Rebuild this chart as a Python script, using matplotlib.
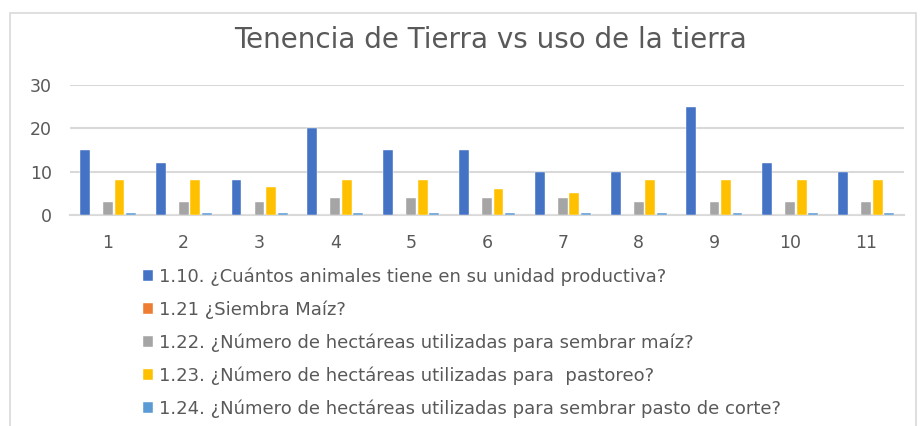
import matplotlib
matplotlib.use("Agg")

import numpy as np
import matplotlib.pyplot as plt
from matplotlib.patches import Rectangle

plt.rcParams['font.family'] = ['DejaVu Sans']

# categories and series
categorias = ['1', '2', '3', '4', '5', '6', '7', '8', '9', '10', '11']
animales = [15, 12, 8, 20, 15, 15, 10, 10, 25, 12, 10]
siembra_maiz = [0, 0, 0, 0, 0, 0, 0, 0, 0, 0, 0]
ha_maiz = [3, 3, 3, 4, 4, 4, 4, 3, 3, 3, 3]
ha_pastoreo = [8, 8, 6.5, 8, 8, 6, 5, 8, 8, 8, 8]
ha_pasto_corte = [0.5, 0.5, 0.5, 0.5, 0.5, 0.5, 0.5, 0.5, 0.5, 0.5, 0.5]

series = [
    ("1.10. ¿Cuántos animales tiene en su unidad productiva?", animales, "#4472C4"),
    ("1.21 ¿Siembra Maíz?", siembra_maiz, "#ED7D31"),
    ("1.22. ¿Número de hectáreas utilizadas para sembrar maíz?", ha_maiz, "#A5A5A5"),
    ("1.23. ¿Número de hectáreas utilizadas para  pastoreo?", ha_pastoreo, "#FFC000"),
    ("1.24. ¿Número de hectáreas utilizadas para sembrar pasto de corte?", ha_pasto_corte, "#5B9BD5"),
]

txt = "#595959"

fig = plt.figure(figsize=(9.21, 4.26), dpi=100)
ax = fig.add_axes([70/921, 1-215/426, (904-70)/921, 130/426])

x = np.arange(len(categorias))
w = 0.13
step = 0.152
handles = []
for i, (lab, vals, col) in enumerate(series):
    b = ax.bar(x + (i-2)*step, vals, width=w, color=col, label=lab,
               edgecolor='white', linewidth=0.3, zorder=3)
    handles.append(b)

ax.set_xlim(-0.5, len(categorias)-0.5)
ax.set_ylim(0, 30)
ax.set_yticks([0, 10, 20, 30])
ax.set_xticks(x)
ax.set_xticklabels(categorias)
ax.yaxis.grid(True, color='#D9D9D9', linewidth=1.5, zorder=0)
for s in ['top', 'right', 'left']:
    ax.spines[s].set_visible(False)
ax.spines['bottom'].set_color('#D9D9D9')
ax.spines['bottom'].set_linewidth(1.5)
ax.tick_params(axis='both', length=0, colors=txt, labelsize=12.5)
ax.tick_params(axis='y', pad=13)
ax.tick_params(axis='x', pad=14)

fig.text(490/921, 1-40/426, "Tenencia de Tierra vs uso de la tierra",
         ha='center', va='center', fontsize=20, color=txt)

fig.legend(handles=handles, loc='upper left', bbox_to_anchor=(136/921, 1-260/426),
           frameon=False, fontsize=13, labelcolor=txt, ncol=1,
           handlelength=0.55, handleheight=0.55, handletextpad=0.3,
           labelspacing=0.8, borderaxespad=0)

fig.patches.append(Rectangle((10/921, -0.1), (916-10)/921, 1.1-13/426,
                             transform=fig.transFigure, fill=False,
                             edgecolor='#D9D9D9', linewidth=1.2))

fig.savefig("out.png", dpi=100)
